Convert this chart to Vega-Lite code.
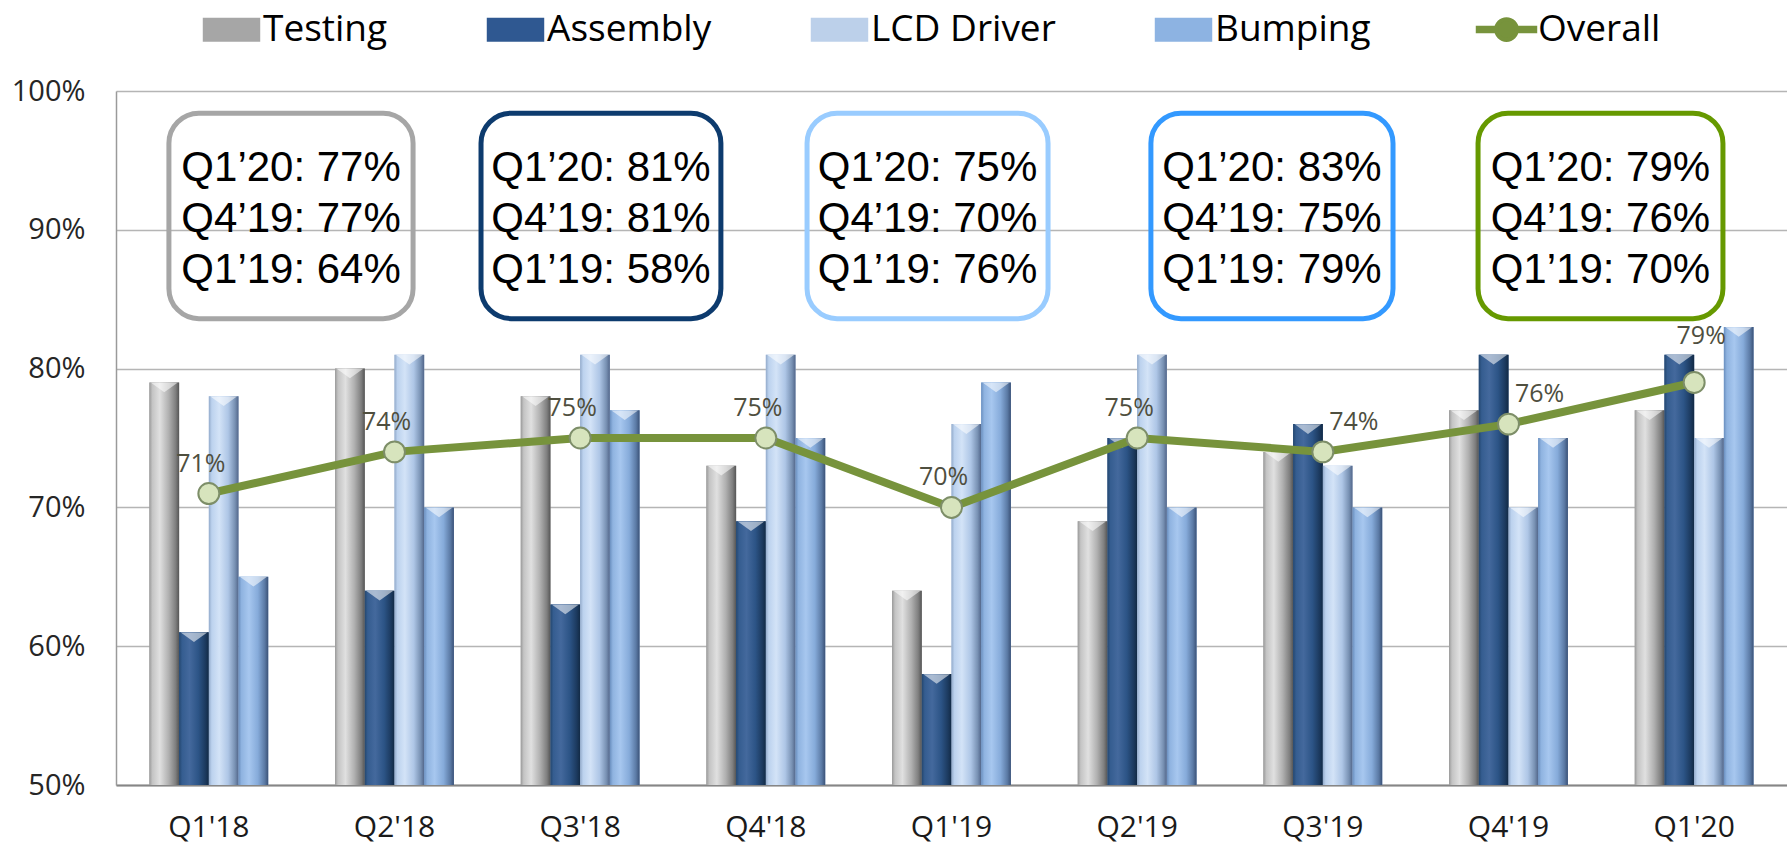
{
  "$schema": "https://vega.github.io/schema/vega-lite/v6.json",
  "width": 1671,
  "height": 694,
  "autosize": {"type": "none"},
  "padding": {"left": 116, "top": 91, "right": 0, "bottom": 66},
  "background": "white",
  "config": {"view": {"stroke": null}, "font": "Open Sans"},
  "datasets": {
    "bars": [
      {"q": "Q1'18", "series": "Testing", "value": 0.79},
      {"q": "Q1'18", "series": "Assembly", "value": 0.61},
      {"q": "Q1'18", "series": "LCD Driver", "value": 0.78},
      {"q": "Q1'18", "series": "Bumping", "value": 0.65},
      {"q": "Q2'18", "series": "Testing", "value": 0.80},
      {"q": "Q2'18", "series": "Assembly", "value": 0.64},
      {"q": "Q2'18", "series": "LCD Driver", "value": 0.81},
      {"q": "Q2'18", "series": "Bumping", "value": 0.70},
      {"q": "Q3'18", "series": "Testing", "value": 0.78},
      {"q": "Q3'18", "series": "Assembly", "value": 0.63},
      {"q": "Q3'18", "series": "LCD Driver", "value": 0.81},
      {"q": "Q3'18", "series": "Bumping", "value": 0.77},
      {"q": "Q4'18", "series": "Testing", "value": 0.73},
      {"q": "Q4'18", "series": "Assembly", "value": 0.69},
      {"q": "Q4'18", "series": "LCD Driver", "value": 0.81},
      {"q": "Q4'18", "series": "Bumping", "value": 0.75},
      {"q": "Q1'19", "series": "Testing", "value": 0.64},
      {"q": "Q1'19", "series": "Assembly", "value": 0.58},
      {"q": "Q1'19", "series": "LCD Driver", "value": 0.76},
      {"q": "Q1'19", "series": "Bumping", "value": 0.79},
      {"q": "Q2'19", "series": "Testing", "value": 0.69},
      {"q": "Q2'19", "series": "Assembly", "value": 0.75},
      {"q": "Q2'19", "series": "LCD Driver", "value": 0.81},
      {"q": "Q2'19", "series": "Bumping", "value": 0.70},
      {"q": "Q3'19", "series": "Testing", "value": 0.74},
      {"q": "Q3'19", "series": "Assembly", "value": 0.76},
      {"q": "Q3'19", "series": "LCD Driver", "value": 0.73},
      {"q": "Q3'19", "series": "Bumping", "value": 0.70},
      {"q": "Q4'19", "series": "Testing", "value": 0.77},
      {"q": "Q4'19", "series": "Assembly", "value": 0.81},
      {"q": "Q4'19", "series": "LCD Driver", "value": 0.70},
      {"q": "Q4'19", "series": "Bumping", "value": 0.75},
      {"q": "Q1'20", "series": "Testing", "value": 0.77},
      {"q": "Q1'20", "series": "Assembly", "value": 0.81},
      {"q": "Q1'20", "series": "LCD Driver", "value": 0.75},
      {"q": "Q1'20", "series": "Bumping", "value": 0.83}
    ],
    "overall": [
      {"q": "Q1'18", "value": 0.71},
      {"q": "Q2'18", "value": 0.74},
      {"q": "Q3'18", "value": 0.75},
      {"q": "Q4'18", "value": 0.75},
      {"q": "Q1'19", "value": 0.70},
      {"q": "Q2'19", "value": 0.75},
      {"q": "Q3'19", "value": 0.74},
      {"q": "Q4'19", "value": 0.76},
      {"q": "Q1'20", "value": 0.79}
    ],
    "boxes": [
      {"box": "Testing", "x0": 0.285, "x1": 1.600, "xc": 0.943, "y0": 0.836, "y1": 0.984, "yc": 0.910, "label": "Q1’20: 77%\nQ4’19: 77%\nQ1’19: 64%"},
      {"box": "Assembly", "x0": 1.966, "x1": 3.258, "xc": 2.612, "y0": 0.836, "y1": 0.984, "yc": 0.910, "label": "Q1’20: 81%\nQ4’19: 81%\nQ1’19: 58%"},
      {"box": "LCD Driver", "x0": 3.722, "x1": 5.020, "xc": 4.371, "y0": 0.836, "y1": 0.984, "yc": 0.910, "label": "Q1’20: 75%\nQ4’19: 70%\nQ1’19: 76%"},
      {"box": "Bumping", "x0": 5.574, "x1": 6.878, "xc": 6.226, "y0": 0.836, "y1": 0.984, "yc": 0.910, "label": "Q1’20: 83%\nQ4’19: 75%\nQ1’19: 79%"},
      {"box": "Overall", "x0": 7.336, "x1": 8.655, "xc": 7.995, "y0": 0.836, "y1": 0.984, "yc": 0.910, "label": "Q1’20: 79%\nQ4’19: 76%\nQ1’19: 70%"}
    ]
  },
  "layer": [
    {
      "data": {"name": "bars"},
      "mark": {"type": "bar"},
      "encoding": {
        "x": {
          "field": "q", "type": "nominal", "sort": null,
          "scale": {"domain": ["Q1'18", "Q2'18", "Q3'18", "Q4'18", "Q1'19", "Q2'19", "Q3'19", "Q4'19", "Q1'20"], "paddingInner": 0.36, "paddingOuter": 0.18},
          "axis": {"title": null, "labelAngle": 0, "labelFont": "Open Sans", "labelFontSize": 30, "labelColor": "#1a1a1a", "labelPadding": 27, "ticks": false, "domain": true, "domainColor": "#868686", "domainWidth": 2, "grid": false}
        },
        "xOffset": {"field": "series", "type": "nominal", "sort": null, "scale": {"domain": ["Testing", "Assembly", "LCD Driver", "Bumping"], "paddingInner": 0, "paddingOuter": 0}},
        "y": {
          "field": "value", "type": "quantitative",
          "scale": {"domain": [0.5, 1], "nice": false, "zero": false},
          "axis": {"title": null, "values": [0.5, 0.6, 0.7, 0.8, 0.9, 1.0], "format": ".0%", "labelFont": "Open Sans", "labelFontSize": 29, "labelColor": "#262626", "labelPadding": 31, "ticks": false, "domain": true, "domainColor": "#9a9a9a", "domainWidth": 1.5, "grid": true, "gridColor": "#b5b5b5", "gridWidth": 1.5}
        },
        "y2": {"datum": 0.5},
        "color": {
          "field": "series", "type": "nominal",
          "scale": {"domain": ["Testing", "Assembly", "LCD Driver", "Bumping", "Overall"], "range": ["#a6a6a6", "#2f5891", "#bcd0ea", "#8db3e2", "#77933c"]},
          "legend": {
            "orient": "none", "legendX": 97, "legendY": -80, "direction": "horizontal", "title": null,
            "labelFont": "Open Sans", "labelFontSize": 37, "labelColor": "#000000", "labelOffset": 13, "labelLimit": 0,
            "symbolSize": 3300, "columnPadding": 98, "padding": 0,
            "encode": {
              "symbols": {
                "update": {
                  "shape": {"signal": "datum.value === 'Overall' ? 'M-1,-0.06H-0.38V0.06H-1Z M0.38,-0.06H1V0.06H0.38Z M0.36,0A0.36,0.36 0 1,1 -0.36,0A0.36,0.36 0 1,1 0.36,0Z' : 'M-1,-0.42H1V0.42H-1Z'"},
                  "fill": {"signal": "datum.value === 'Testing' ? '#a6a6a6' : datum.value === 'Assembly' ? '#2f5891' : datum.value === 'LCD Driver' ? '#bcd0ea' : datum.value === 'Bumping' ? '#8db3e2' : '#d7e4bd'"},
                  "stroke": {"signal": "datum.value === 'Overall' ? '#77933c' : 'transparent'"},
                  "strokeWidth": {"signal": "datum.value === 'Overall' ? 4 : 0"},
                  "opacity": {"value": 1}
                }
              }
            }
          }
        }
      }
    },
    {
      "data": {"name": "bars"},
      "mark": {"type": "bar"},
      "encoding": {
        "x": {"field": "q", "type": "nominal", "sort": null, "scale": {"domain": ["Q1'18", "Q2'18", "Q3'18", "Q4'18", "Q1'19", "Q2'19", "Q3'19", "Q4'19", "Q1'20"], "paddingInner": 0.36, "paddingOuter": 0.18}, "axis": null},
        "xOffset": {"field": "series", "type": "nominal", "sort": null},
        "y": {"field": "value", "type": "quantitative"},
        "y2": {"datum": 0.5},
        "color": {
          "condition": [
            {"test": "datum.series === 'Testing'", "value": {"gradient": "linear", "x1": 0, "x2": 1, "y1": 0, "y2": 0, "stops": [{"offset": 0, "color": "#9a9a9a"}, {"offset": 0.1, "color": "#c4c4c4"}, {"offset": 0.35, "color": "#e0e0e0"}, {"offset": 0.65, "color": "#b0b0b0"}, {"offset": 0.88, "color": "#7f7f7f"}, {"offset": 1, "color": "#555555"}]}},
            {"test": "datum.series === 'Assembly'", "value": {"gradient": "linear", "x1": 0, "x2": 1, "y1": 0, "y2": 0, "stops": [{"offset": 0, "color": "#24476f"}, {"offset": 0.1, "color": "#355d90"}, {"offset": 0.35, "color": "#44699d"}, {"offset": 0.65, "color": "#2c5486"}, {"offset": 0.88, "color": "#1c3a5f"}, {"offset": 1, "color": "#122a45"}]}},
            {"test": "datum.series === 'LCD Driver'", "value": {"gradient": "linear", "x1": 0, "x2": 1, "y1": 0, "y2": 0, "stops": [{"offset": 0, "color": "#93abcb"}, {"offset": 0.1, "color": "#bcd2ee"}, {"offset": 0.35, "color": "#d3e3f7"}, {"offset": 0.65, "color": "#aec6e6"}, {"offset": 0.88, "color": "#7891b3"}, {"offset": 1, "color": "#52668a"}]}}
          ],
          "value": {"gradient": "linear", "x1": 0, "x2": 1, "y1": 0, "y2": 0, "stops": [{"offset": 0, "color": "#6a8fbf"}, {"offset": 0.1, "color": "#8fb3e0"}, {"offset": 0.35, "color": "#a7c7ef"}, {"offset": 0.65, "color": "#86abda"}, {"offset": 0.88, "color": "#5b7aa5"}, {"offset": 1, "color": "#3b5277"}]}
        }
      }
    },
    {
      "data": {"name": "bars"},
      "mark": {"type": "point", "shape": "M-1,-0.36L1,-0.36L0,0.36Z", "filled": true, "size": 700, "color": "#ffffff", "opacity": 0.55, "strokeWidth": 0, "yOffset": 5},
      "encoding": {
        "x": {"field": "q", "type": "nominal", "sort": null, "scale": {"type": "band", "domain": ["Q1'18", "Q2'18", "Q3'18", "Q4'18", "Q1'19", "Q2'19", "Q3'19", "Q4'19", "Q1'20"], "paddingInner": 0.36, "paddingOuter": 0.18}, "axis": null},
        "xOffset": {"field": "series", "type": "nominal", "sort": null},
        "y": {"field": "value", "type": "quantitative"}
      }
    },
    {
      "data": {"name": "overall"},
      "encoding": {
        "x": {"field": "q", "type": "nominal", "sort": null, "scale": {"type": "point", "domain": ["Q1'18", "Q2'18", "Q3'18", "Q4'18", "Q1'19", "Q2'19", "Q3'19", "Q4'19", "Q1'20"], "padding": 0.5}, "axis": null},
        "y": {"field": "value", "type": "quantitative"}
      },
      "layer": [
        {"mark": {"type": "line", "strokeWidth": 8}, "encoding": {"color": {"datum": "Overall", "type": "nominal"}}},
        {"mark": {"type": "point", "filled": true, "size": 440, "fill": "#d7e4bd", "stroke": "#7d8e68", "strokeWidth": 2, "opacity": 1}},
        {
          "transform": [{"filter": {"field": "q", "oneOf": ["Q1'18", "Q2'18", "Q3'18", "Q4'18", "Q1'19", "Q2'19"]}}],
          "mark": {"type": "text", "font": "Open Sans", "fontSize": 25, "color": "#4f4f3f", "dx": -8, "dy": -30},
          "encoding": {"text": {"field": "value", "type": "quantitative", "format": ".0%"}}
        },
        {
          "transform": [{"filter": {"field": "q", "oneOf": ["Q3'19", "Q4'19"]}}],
          "mark": {"type": "text", "font": "Open Sans", "fontSize": 25, "color": "#4f4f3f", "dx": 31, "dy": -30},
          "encoding": {"text": {"field": "value", "type": "quantitative", "format": ".0%"}}
        },
        {
          "transform": [{"filter": {"field": "q", "oneOf": ["Q1'20"]}}],
          "mark": {"type": "text", "font": "Open Sans", "fontSize": 25, "color": "#4f4f3f", "dx": 7, "dy": -46},
          "encoding": {"text": {"field": "value", "type": "quantitative", "format": ".0%"}}
        }
      ]
    },
    {
      "data": {"name": "boxes"},
      "layer": [
        {
          "mark": {"type": "rect", "cornerRadius": 30, "filled": false, "fill": null, "strokeWidth": 5},
          "encoding": {
            "x": {"field": "x0", "type": "quantitative", "scale": {"domain": [0, 9], "nice": false, "zero": false}, "axis": null},
            "x2": {"field": "x1"},
            "y": {"field": "y0", "type": "quantitative"},
            "y2": {"field": "y1"},
            "stroke": {"field": "box", "type": "nominal", "scale": {"domain": ["Testing", "Assembly", "LCD Driver", "Bumping", "Overall"], "range": ["#a6a6a6", "#0d3b6e", "#99ccff", "#3399ff", "#669900"]}, "legend": null}
          }
        },
        {
          "mark": {"type": "text", "font": "Liberation Sans", "fontSize": 42, "lineBreak": "\n", "lineHeight": 51, "align": "center", "baseline": "middle", "dy": -48, "color": "#000000"},
          "encoding": {
            "x": {"field": "xc", "type": "quantitative", "scale": {"domain": [0, 9], "nice": false, "zero": false}, "axis": null},
            "y": {"field": "yc", "type": "quantitative"},
            "text": {"field": "label", "type": "nominal"}
          }
        }
      ]
    }
  ],
  "resolve": {"scale": {"x": "independent"}}
}
